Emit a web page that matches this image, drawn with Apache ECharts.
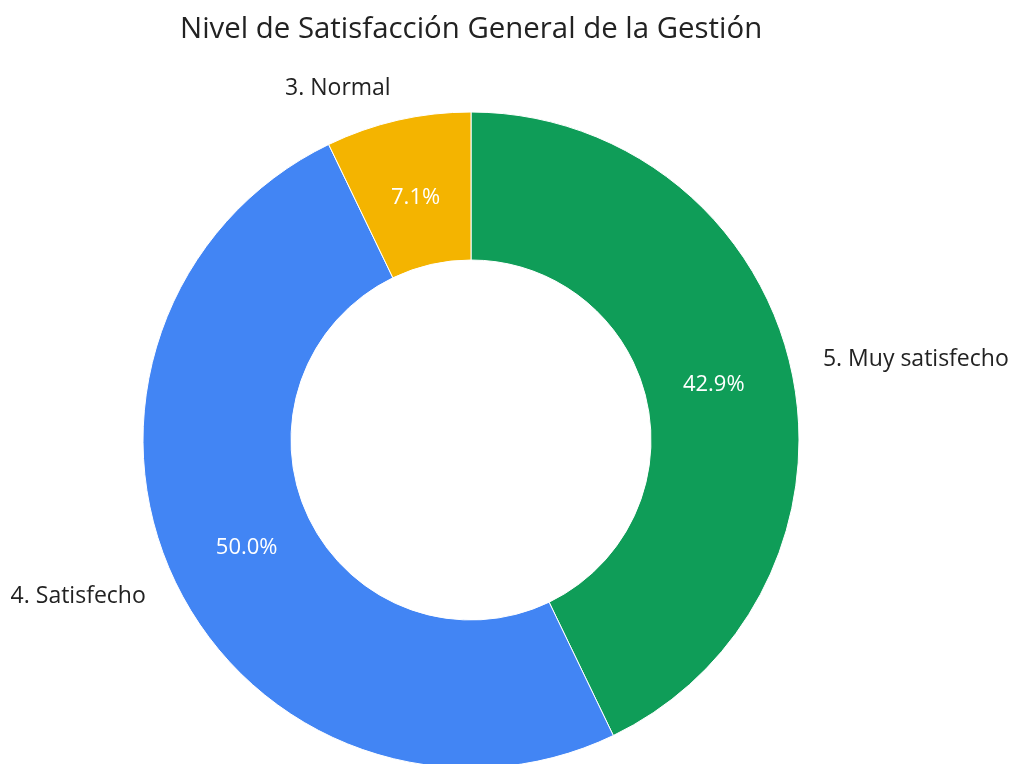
<!DOCTYPE html>
<html>
<head>
<meta charset="utf-8">
<script src="https://cdn.jsdelivr.net/npm/echarts@6/dist/echarts.min.js"></script>
<style>html,body{margin:0;padding:0;background:#fff}#c{width:1011px;height:764px}</style>
</head>
<body>
<div id="c"></div>
<script>
const titleText = 'Nivel de Satisfacción General de la Gestión';
const categories = ['5. Muy satisfecho', '4. Satisfecho', '3. Normal'];
const values = [6, 7, 1];
const colors = ['#0F9D58', '#4285F4', '#F4B400'];

const chart = echarts.init(document.getElementById('c'), null, {renderer: 'canvas'});
const fontFamily = '"Open Sans", Roboto, sans-serif';
chart.setOption({
  animation: false,
  title: {
    text: titleText,
    left: 175,
    top: 10,
    textStyle: {fontFamily, fontSize: 29.4, fontWeight: 'normal', color: '#222'}
  },
  series: [{
    type: 'pie',
    center: [471, 440],
    radius: [180, 328],
    startAngle: 90,
    clockwise: true,
    avoidLabelOverlap: false,
    itemStyle: {borderColor: '#fff', borderWidth: 1},
    data: categories.map((c, i) => ({name: c, value: values[i], itemStyle: {color: colors[i]}})),
    label: {
      show: true,
      position: 'outside',
      formatter: '{b}',
      fontFamily,
      fontSize: 23,
      color: '#222',
      overflow: 'none'
    },
    labelLine: {show: false, length: 33, length2: -5},
    emphasis: {disabled: true}
  }, {
    type: 'pie',
    center: [471, 440],
    radius: [164, 328],
    startAngle: 90,
    clockwise: true,
    silent: true,
    itemStyle: {color: 'rgba(0,0,0,0)'},
    data: categories.map((c, i) => ({name: c, value: values[i]})),
    label: {
      show: true,
      position: 'inside',
      formatter: p => p.percent.toFixed(1) + '%',
      fontFamily,
      fontSize: 22,
      color: '#fff'
    },
    labelLine: {show: false}
  }]
});
</script>
</body>
</html>
